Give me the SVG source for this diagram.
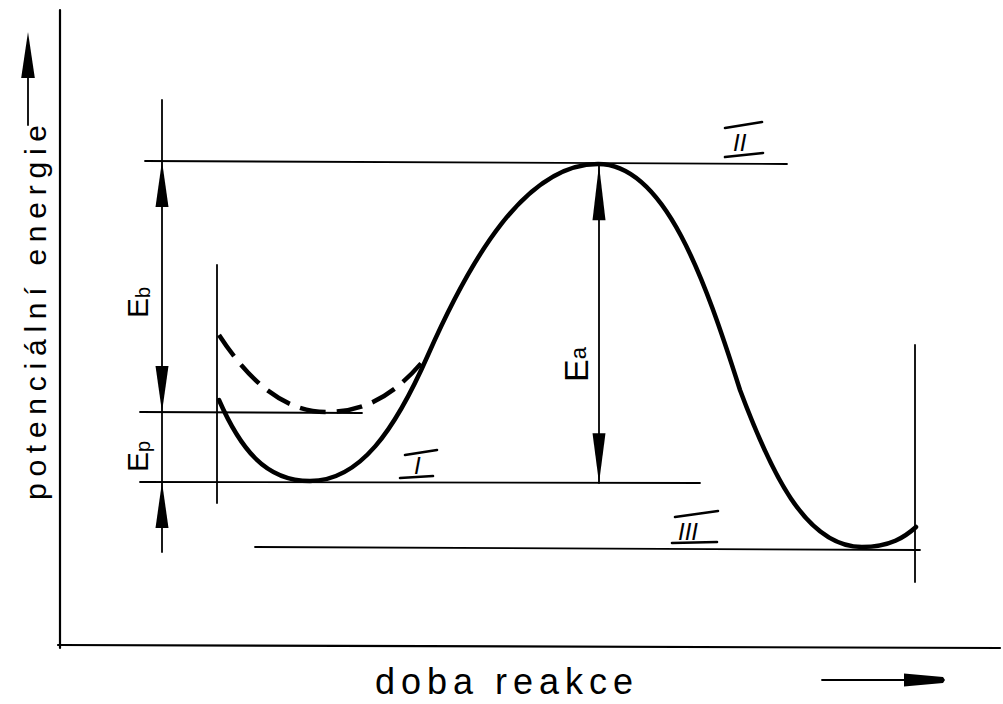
<svg xmlns="http://www.w3.org/2000/svg" xmlns:xlink="http://www.w3.org/1999/xlink" width="1003" height="704" viewBox="0 0 1003 704">
<style>
.ax{stroke:#000;stroke-width:2.2;fill:none;stroke-linecap:round}
.ln{stroke:#000;stroke-width:1.8;fill:none;stroke-linecap:round}
.cv{stroke:#000;stroke-width:4.5;fill:none;stroke-linecap:round;stroke-linejoin:round}
.dash{stroke-dasharray:26 11;stroke-linecap:butt}
.bar{stroke:#000;stroke-width:2.6;fill:none;stroke-linecap:round}
.t{font-family:"Liberation Sans","DejaVu Sans",sans-serif;fill:#000}
.rn{font-family:"Liberation Sans","DejaVu Sans",sans-serif;font-style:italic;font-size:24px;fill:#000}
</style>
<defs>
<path id="ah" d="M0,0 L-6.5,46 L6.5,46 Z" fill="#000"/>
</defs>
<rect width="1003" height="704" fill="#fff"/>
<g id="axes">
<line class="ax" x1="60" y1="10" x2="60" y2="648"/>
<line class="ax" x1="58" y1="645" x2="1000" y2="648"/>
<line class="ln" x1="28" y1="70" x2="28" y2="125"/>
<use xlink:href="#ah" transform="translate(28,32) scale(1.05,1)"/>
<line class="ln" x1="822" y1="680" x2="906" y2="680"/>
<path d="M904,673.5 L943,677 L945,680 L943,683 L904,686.5 Z" fill="#000"/>
<text class="t" font-size="30" transform="translate(46,500) rotate(-90)" textLength="375" lengthAdjust="spacing">potenciální energie</text>
<text class="t" font-size="36" x="375" y="694" textLength="258" lengthAdjust="spacing">doba reakce</text>
</g>
<g id="levels">
<line class="ln" x1="145" y1="161" x2="787" y2="164"/>
<line class="ln" x1="140" y1="412" x2="362" y2="413"/>
<line class="ln" x1="140" y1="482" x2="700" y2="483"/>
<line class="ln" x1="255" y1="547" x2="920" y2="550"/>
<line class="ln" x1="162" y1="100" x2="162" y2="552"/>
<line class="ln" x1="217" y1="265" x2="217" y2="503"/>
<line class="ln" x1="915" y1="345" x2="915" y2="582"/>
<line class="ln" x1="599" y1="164" x2="599" y2="483"/>
</g>
<g id="connectors">
<use xlink:href="#ah" transform="translate(162,161)"/>
<use xlink:href="#ah" transform="translate(162,412) rotate(180)"/>
<use xlink:href="#ah" transform="translate(162,482)"/>
<use xlink:href="#ah" transform="translate(599,165) scale(1,1.2)"/>
<use xlink:href="#ah" transform="translate(599,483) rotate(180) scale(1,1.08)"/>
</g>
<g id="curve">
<path class="cv" d="M219,400 C240,448 265,481 310,481 C360,481 395,430 428,355 C470,260 525,164 598,164 C665,164 705,280 740,390 C770,470 805,547 862,547 C890,547 905,537 916,527"/>
<path class="cv dash" d="M219,335 C245,375 280,412 327,412 C370,412 400,390 428,355"/>
</g>
<g id="label-Eb">
<text class="t" font-size="30" transform="translate(148,318) rotate(-90)">E<tspan font-size="20" dy="2">b</tspan></text>
</g>
<g id="label-Ep">
<text class="t" font-size="30" transform="translate(148,472) rotate(-90)">E<tspan font-size="20" dy="2">p</tspan></text>
</g>
<g id="label-Ea">
<text class="t" font-size="34" transform="translate(588,382) rotate(-90)">E<tspan font-size="22" dy="-2">a</tspan></text>
</g>
<g id="label-I">
<line class="bar" x1="405" y1="455" x2="437" y2="450"/>
<text class="rn" x="414" y="474">I</text>
<line class="bar" x1="400" y1="478" x2="433" y2="476"/>
</g>
<g id="label-II">
<line class="bar" x1="725" y1="128" x2="762" y2="122"/>
<text class="rn" x="733" y="151">II</text>
<line class="bar" x1="725" y1="157" x2="763" y2="153"/>
</g>
<g id="label-III">
<line class="bar" x1="675" y1="517" x2="718" y2="511"/>
<text class="rn" x="678" y="540">III</text>
<line class="bar" x1="672" y1="543" x2="717" y2="542"/>
</g>
</svg>
